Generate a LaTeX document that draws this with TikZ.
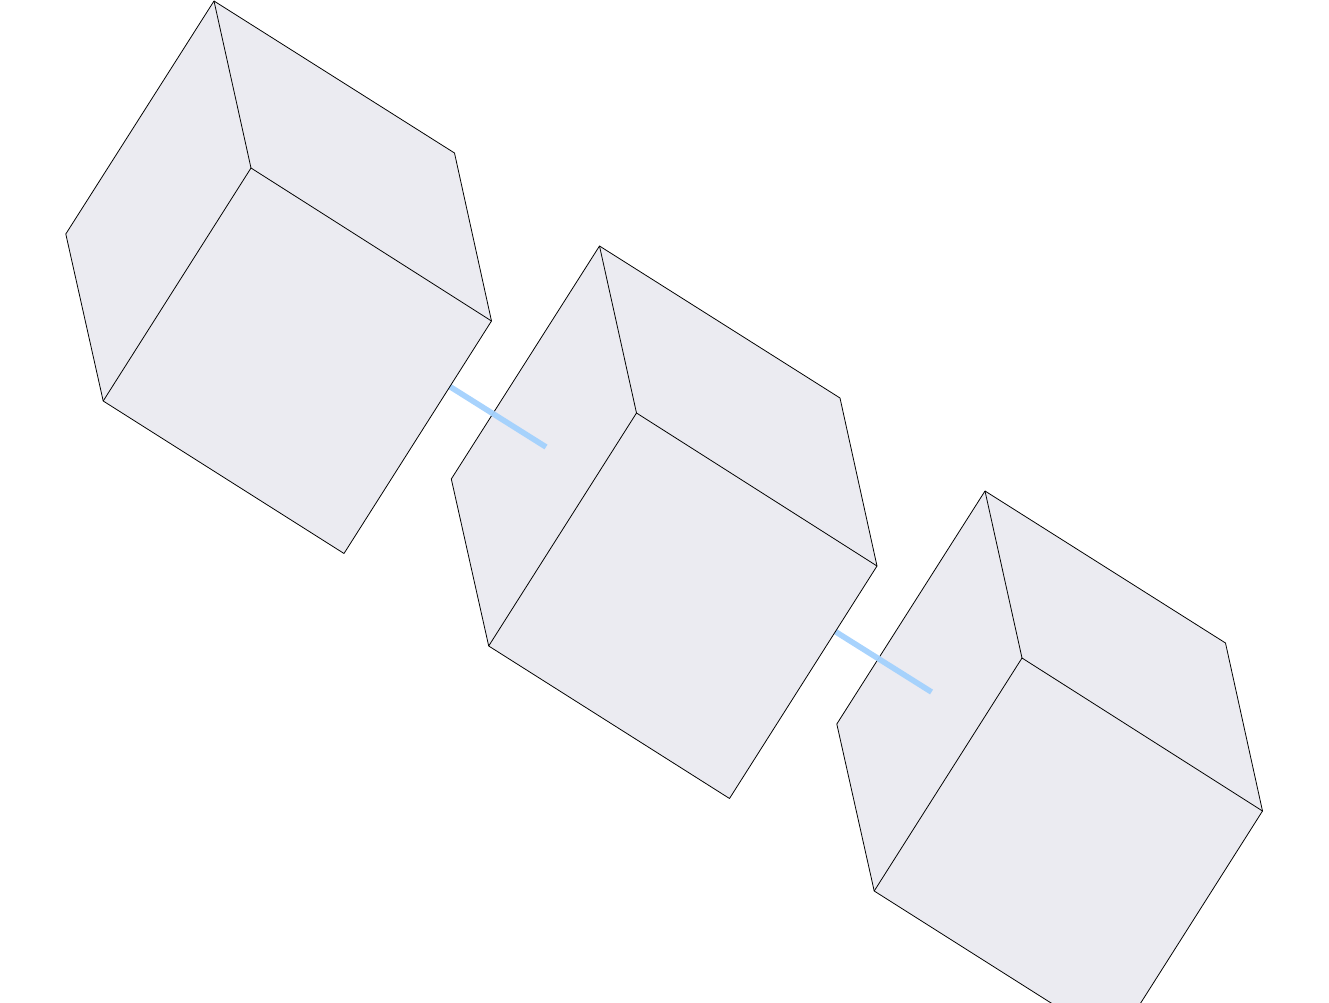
\documentclass[tikz,border=0pt]{standalone}
\usepackage{xcolor}
\usepackage{tikz}

\definecolor{cubefill}{HTML}{EBEBF1}
\definecolor{linkblue}{HTML}{A3D1FD}

\begin{document}
\begin{tikzpicture}[
  x=0.02cm, y=-0.02cm,
  face/.style={draw=black, fill=cubefill, line width=0.45pt, line join=round},
  edge/.style={draw=black, line width=0.45pt},
  link/.style={draw=linkblue, line width=3.2pt, opacity=0.95}
]
\useasboundingbox (0,0) rectangle (1329,1003);
\clip (0,0) rectangle (1329,1003);

% ---- cubes, last one first; each link runs from under its cube to the next ----
\foreach \n/\dx/\dy in {c/771/490, b/385.5/245, a/0/0}{
  \begin{scope}[shift={(\dx,\dy)}]
    \coordinate (\n top) at (214,1);
    \coordinate (\n ur) at (454.5,153);
    \coordinate (\n right) at (491.5,321);
    \coordinate (\n bot) at (344,553.5);
    \coordinate (\n ll) at (103.2,401);
    \coordinate (\n left) at (65.8,234);
    \coordinate (\n in) at (251,168);
    \coordinate (\n link) at (433,376);
    \coordinate (\n tip) at (546,447);
  \end{scope}
  \if\n c\else
    \draw[link] (\n link) -- (\n tip);
  \fi
  \path[face] (\n top) -- (\n ur) -- (\n right) -- (\n bot) -- (\n ll) -- (\n left) -- cycle;
  \draw[edge] (\n top) -- (\n in);
  \draw[edge] (\n ll) -- (\n in) -- (\n right);
}
\end{tikzpicture}
\end{document}
